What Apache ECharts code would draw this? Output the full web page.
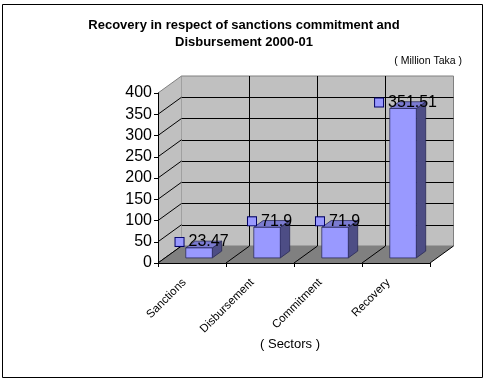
<!DOCTYPE html>
<html>
<head>
<meta charset="utf-8">
<script src="https://cdn.jsdelivr.net/npm/echarts@6/dist/echarts.min.js"></script>
<style>
  html, body { margin: 0; padding: 0; background: #fff; }
  #chart { width: 486px; height: 381px; }
</style>
</head>
<body>
<div id="chart"></div>
<script>
const categories = ['Sanctions', 'Disbursement', 'Commitment', 'Recovery'];
const values = [23.47, 71.9, 71.9, 351.51];
const yTicks = [0, 50, 100, 150, 200, 250, 300, 350, 400];
const titleLines = ['Recovery in respect of sanctions commitment and', 'Disbursement 2000-01'];
const unitText = '( Million Taka )';
const xAxisTitle = '( Sectors )';

const FONT = '"Liberation Sans", Arial, sans-serif';
const DX = 23.5, DY = -17;      // 3D depth offset in pixels
const FRONT = 0.3, BACK = 0.7;  // bar depth position fractions
const BAR_W = 0.39;

const chart = echarts.init(document.getElementById('chart'), null, { renderer: 'canvas' });

function renderWalls(params, api) {
  if (params.dataIndex !== 0) return null;
  const n = categories.length;
  const bw = api.size([1, 0])[0];
  const xL = api.coord([0, 0])[0] - bw / 2;
  const xR = api.coord([n - 1, 0])[0] + bw / 2;
  const y0 = api.coord([0, yTicks[0]])[1];
  const yTop = api.coord([0, yTicks[yTicks.length - 1]])[1];
  const children = [];
  children.push({
    type: 'polygon',
    shape: { points: [[xL, y0], [xL, yTop], [xL + DX, yTop + DY], [xL + DX, y0 + DY]] },
    style: { fill: '#c0c0c0', stroke: null }
  });
  yTicks.forEach((t, i) => {
    const y = api.coord([0, t])[1];
    const last = i === yTicks.length - 1;
    children.push({
      type: 'line',
      shape: { x1: xL, y1: y, x2: xL + DX, y2: y + DY },
      style: { stroke: last ? '#808080' : '#000', lineWidth: 1 }
    });
  });
  children.push({
    type: 'polygon',
    shape: { points: [[xL, y0], [xR, y0], [xR + DX, y0 + DY], [xL + DX, y0 + DY]] },
    style: { fill: '#808080', stroke: null }
  });
  for (let i = 1; i <= n; i++) {
    const x = xL + bw * i;
    children.push({
      type: 'line',
      shape: { x1: x, y1: y0, x2: x + DX, y2: y0 + DY },
      style: { stroke: '#000', lineWidth: 1 }
    });
  }
  children.push({
    type: 'line',
    shape: { x1: xL, y1: y0, x2: xL + DX, y2: y0 + DY },
    style: { stroke: '#000', lineWidth: 1 }
  });
  return { type: 'group', children: children };
}

function renderBar(params, api) {
  const i = api.value(0);
  const v = api.value(1);
  const c = api.coord([i, 0]);
  const t = api.coord([i, v]);
  const w = api.size([1, 0])[0] * BAR_W;
  const x1 = c[0] - w / 2 + FRONT * DX;
  const x2 = x1 + w;
  const yb = c[1] + FRONT * DY;
  const yt = t[1] + FRONT * DY;
  const bx = (BACK - FRONT) * DX, by = (BACK - FRONT) * DY;
  const edge = '#1f1f4f';
  return {
    type: 'group',
    children: [
      {
        type: 'polygon',
        shape: { points: [[x2, yb], [x2, yt], [x2 + bx, yt + by], [x2 + bx, yb + by]] },
        style: { fill: '#4d4d85', stroke: edge, lineWidth: 0.7 }
      },
      {
        type: 'polygon',
        shape: { points: [[x1, yt], [x2, yt], [x2 + bx, yt + by], [x1 + bx, yt + by]] },
        style: { fill: '#7b7bd0', stroke: edge, lineWidth: 0.7 }
      },
      {
        type: 'rect',
        shape: { x: x1, y: yt, width: w, height: yb - yt },
        style: { fill: '#9999ff', stroke: edge, lineWidth: 0.7 }
      },
      {
        type: 'text',
        x: (x1 + x2) / 2 + 3,
        y: yt - 6,
        style: {
          text: '{s|}{v|' + String(values[i]) + '}',
          align: 'center',
          verticalAlign: 'middle',
          rich: {
            s: { width: 8, height: 8, backgroundColor: '#9999ff', borderColor: '#000066', borderWidth: 1 },
            v: { fontSize: 16, fontFamily: FONT, fill: '#000', padding: [0, 0, 0, 5] }
          }
        }
      }
    ]
  };
}

const option = {
  animation: false,
  backgroundColor: '#ffffff',
  grid: [
    { left: 158, top: 93, width: 272, height: 170, show: false },
    { left: 181.5, top: 76, width: 272, height: 170, show: true,
      backgroundColor: '#c0c0c0', borderColor: '#808080', borderWidth: 1 }
  ],
  xAxis: [
    {
      gridIndex: 0, type: 'category', data: categories, z: 5,
      axisLine: { show: true, lineStyle: { color: '#000', width: 1 } },
      axisTick: { show: true, length: 4, interval: 0, lineStyle: { color: '#000' } },
      axisLabel: { interval: 0, rotate: 45, margin: 10, padding: [0, 11, 0, 0],
        fontSize: 11.5, fontFamily: FONT, color: '#000' },
      splitLine: { show: false }
    },
    {
      gridIndex: 1, type: 'category', data: categories,
      axisLine: { show: false }, axisTick: { show: false }, axisLabel: { show: false },
      splitLine: { show: true, showMinLine: false, showMaxLine: false, interval: 0, lineStyle: { color: '#000', width: 1 } }
    }
  ],
  yAxis: [
    {
      gridIndex: 0, type: 'value', min: yTicks[0], max: yTicks[yTicks.length - 1], interval: 50, z: 5,
      axisLine: { show: true, lineStyle: { color: '#000', width: 1 } },
      axisTick: { show: true, length: 4, lineStyle: { color: '#000' } },
      axisLabel: { margin: 6, fontSize: 16, fontFamily: FONT, color: '#000' },
      splitLine: { show: false }
    },
    {
      gridIndex: 1, type: 'value', min: yTicks[0], max: yTicks[yTicks.length - 1], interval: 50,
      axisLine: { show: false }, axisTick: { show: false }, axisLabel: { show: false },
      splitLine: { show: true, showMinLine: false, showMaxLine: false, lineStyle: { color: '#000', width: 1 } }
    }
  ],
  series: [
    {
      type: 'custom', xAxisIndex: 0, yAxisIndex: 0, z: 2,
      renderItem: renderWalls,
      data: [[0, 0]],
      silent: true
    },
    {
      type: 'custom', xAxisIndex: 0, yAxisIndex: 0, z: 3,
      renderItem: renderBar,
      data: values.map((v, i) => [i, v]),
      silent: true
    }
  ],
  graphic: [
    { type: 'rect', shape: { x: 2.5, y: 4.5, width: 480, height: 373 },
      style: { fill: null, stroke: '#000', lineWidth: 1 }, z: 10 },
    { type: 'text', x: 244, y: 25,
      style: { text: titleLines[0], font: 'bold 13px ' + FONT, fill: '#000', align: 'center', verticalAlign: 'middle' } },
    { type: 'text', x: 244, y: 42.5,
      style: { text: titleLines[1], font: 'bold 13px ' + FONT, fill: '#000', align: 'center', verticalAlign: 'middle' } },
    { type: 'text', x: 462, y: 61.5,
      style: { text: unitText, font: '10.5px ' + FONT, fill: '#000', align: 'right', verticalAlign: 'middle' } },
    { type: 'text', x: 290, y: 344,
      style: { text: xAxisTitle, font: '13px ' + FONT, fill: '#000', align: 'center', verticalAlign: 'middle' } }
  ]
};
chart.setOption(option);
</script>
</body>
</html>
